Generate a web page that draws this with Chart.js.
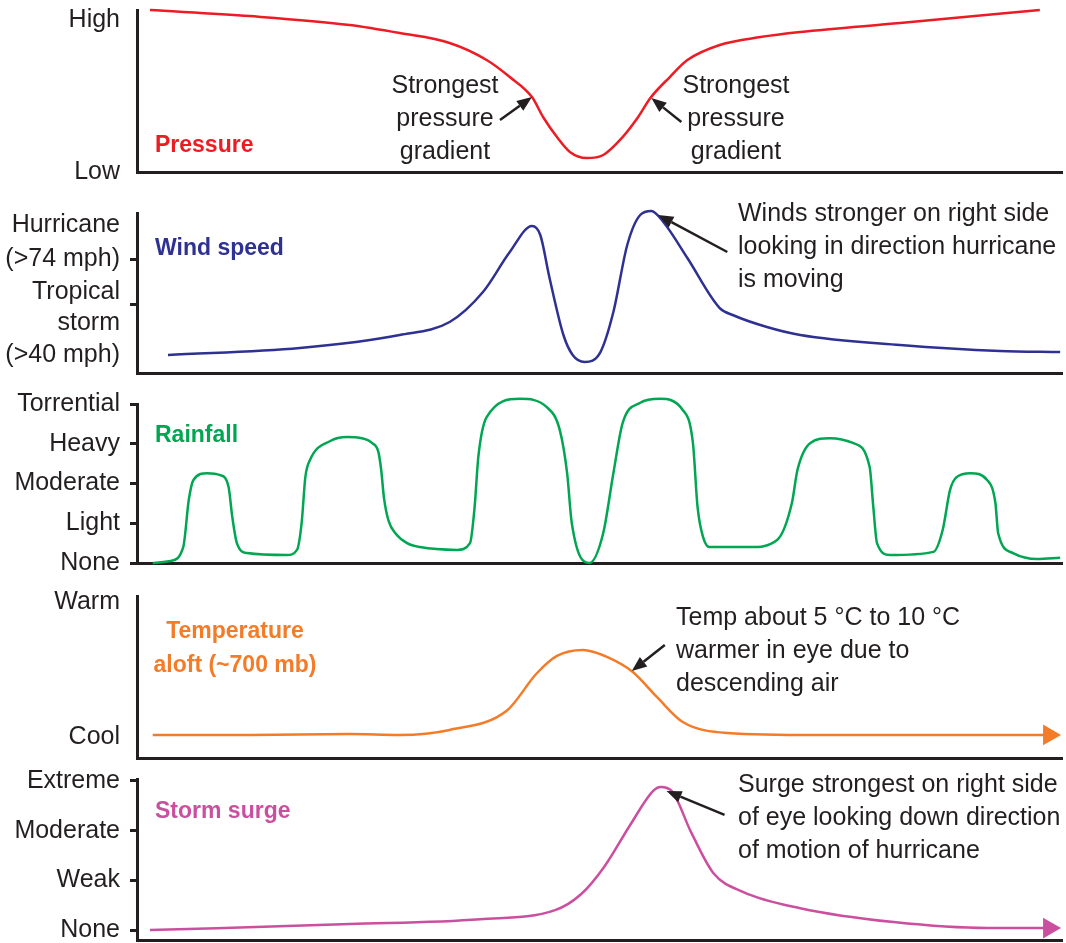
<!DOCTYPE html>
<html lang="en">
<head>
  <meta charset="UTF-8">
  <title>Hurricane cross-section</title>
  <script src="https://cdn.jsdelivr.net/npm/chart.js@4.4.1/dist/chart.umd.min.js"></script>
  <style>
    html, body { margin: 0; padding: 0; background: #fff; }
    #wrap { position: relative; width: 1066px; height: 943px; overflow: hidden; }
    .panel { position: absolute; left: 0; width: 1066px; }
  </style>
</head>
<body>
  <div id="wrap">
    <div class="panel" id="p0"><canvas></canvas></div>
    <div class="panel" id="p1"><canvas></canvas></div>
    <div class="panel" id="p2"><canvas></canvas></div>
    <div class="panel" id="p3"><canvas></canvas></div>
    <div class="panel" id="p4"><canvas></canvas></div>
  </div>

  <script>
    // x = distance across the storm (0..100), y = level on each panel's own scale

    // pressure: 0 = Low, 10 = High
    const pressureX = [1.4, 12.2, 23.0, 28.4, 33.8, 37.8, 40.3, 42.7, 43.9, 45.4, 46.8, 48.6, 50.4, 52.5, 54.1, 55.5, 57.6, 59.5, 63.0, 67.4, 71.7, 82.5, 97.6];
    const pressureY = [10.66, 10.26, 9.67, 9.14, 8.49, 7.37, 6.25, 4.93, 3.62, 2.30, 1.32, 0.92, 1.12, 2.30, 3.55, 4.87, 6.25, 7.37, 8.36, 8.88, 9.21, 9.80, 10.66];

    // wind speed: 0..100 index
    const windX = [3.35, 17.6, 28.4, 33.8, 37.4, 40.3, 42.7, 43.6, 44.6, 46.1, 47.1, 48.4, 50.1, 51.5, 53.0, 54.4, 55.6, 56.9, 59.5, 63.0, 64.4, 68.1, 71.7, 82.5, 93.3, 99.8];
    const windY = [11.25, 15.6, 23.75, 31.9, 50.6, 75.6, 91.9, 86.25, 59.4, 23.75, 11.25, 6.9, 13.1, 38.1, 80, 98.75, 101.25, 94.4, 71.9, 40.6, 36.25, 28.75, 23.75, 17.5, 13.75, 13.1];

    // rainfall: 0 None .. 4 Torrential
    const rainX = [1.7, 3.6, 5.0, 5.6, 6.1, 7.6, 9.0, 9.9, 10.3, 10.8, 11.9, 16.2, 17.3, 17.8, 18.2, 18.7, 20.9, 22.7, 24.3, 25.4, 26.1, 26.4, 26.7, 27.2, 28.0, 29.2, 30.6, 34.6, 36.0, 36.5, 36.9, 37.8, 41.4, 44.3, 45.7, 46.5, 47.0, 48.9, 50.4, 51.5, 52.5, 54.4, 56.5, 59.0, 60.1, 60.6, 61.2, 61.9, 66.3, 69.2, 70.8, 71.4, 72.8, 74.9, 77.4, 79.2, 79.6, 80.0, 81.4, 86.1, 87.1, 87.9, 88.6, 90.1, 91.9, 92.8, 93.1, 94.7, 97.3, 99.8];
    const rainY = [0.00, 0.05, 0.40, 1.59, 2.09, 2.26, 2.21, 1.91, 1.16, 0.50, 0.25, 0.20, 0.33, 1.01, 2.16, 2.59, 3.07, 3.17, 3.14, 3.02, 2.79, 2.34, 1.64, 1.06, 0.73, 0.50, 0.40, 0.33, 0.50, 1.41, 2.67, 3.67, 4.13, 3.92, 3.35, 2.26, 1.01, 0.00, 0.75, 2.26, 3.52, 4.03, 4.13, 3.85, 3.02, 1.41, 0.65, 0.40, 0.40, 0.58, 1.51, 2.34, 3.02, 3.14, 3.02, 2.42, 1.41, 0.50, 0.20, 0.28, 0.83, 1.84, 2.16, 2.26, 2.09, 1.51, 0.75, 0.25, 0.10, 0.13];

    // temperature aloft: 0 = Cool, 10 = Warm
    const tempX = [1.7, 12.2, 23.0, 28.4, 33.8, 40.0, 43.2, 45.4, 48.2, 50.8, 53.6, 56.2, 59.0, 63.8, 73.5, 87.9, 98.6];
    const tempY = [0.15, 0.15, 0.22, 0.15, 0.52, 1.96, 4.70, 6.00, 6.44, 5.93, 4.81, 2.96, 1.11, 0.30, 0.15, 0.15, 0.15];

    // storm surge: 0 None .. 3 Extreme
    const surgeX = [1.4, 23.0, 37.1, 45.2, 48.0, 50.5, 53.3, 55.8, 56.6, 57.8, 59.9, 62.3, 65.5, 71.7, 81.8, 92.0, 98.6];
    const surgeY = [0.00, 0.12, 0.22, 0.40, 0.72, 1.27, 2.11, 2.80, 2.88, 2.80, 1.97, 1.15, 0.77, 0.44, 0.16, 0.04, 0.04];

    // tick labels
    const pressureTicks = ['Low', 'High'];
    const windTicks = ['Hurricane', '(>74 mph)', 'Tropical', '', 'storm', '(>40 mph)'];
    const rainTicks = ['None', 'Light', 'Moderate', 'Heavy', 'Torrential'];
    const tempTicks = ['Cool', 'Warm'];
    const surgeTicks = ['None', 'Weak', 'Moderate', 'Extreme'];

    const ink = '#231f20';
    const FONT = "'Liberation Sans', Arial, sans-serif";
    const padTop = 32, padBottom = 32;

    function drawArrow(ctx, x0, y0, x1, y1) {
      const ang = Math.atan2(y1 - y0, x1 - x0);
      const len = 15, half = 6;
      const bx = x1 - Math.cos(ang) * len, by = y1 - Math.sin(ang) * len;
      ctx.strokeStyle = ink;
      ctx.fillStyle = ink;
      ctx.lineWidth = 2.5;
      ctx.beginPath();
      ctx.moveTo(x0, y0);
      ctx.lineTo(bx, by);
      ctx.stroke();
      ctx.beginPath();
      ctx.moveTo(x1, y1);
      ctx.lineTo(bx + Math.sin(ang) * half, by - Math.cos(ang) * half);
      ctx.lineTo(bx - Math.sin(ang) * half, by + Math.cos(ang) * half);
      ctx.closePath();
      ctx.fill();
    }

    function makePanel(id, p) {
      const holder = document.getElementById(id);
      const offset = p.top - padTop;
      holder.style.top = offset + 'px';
      holder.style.height = (p.bottom - p.top + padTop + padBottom) + 'px';

      const notes = {
        id: 'notes',
        afterDatasetsDraw(chart) {
          const ctx = chart.ctx;
          ctx.save();
          ctx.textBaseline = 'middle';
          p.notes.forEach(n => {
            ctx.font = (n.bold ? 'bold 23px ' : '25px ') + FONT;
            ctx.fillStyle = n.color || ink;
            ctx.textAlign = n.align || 'left';
            n.lines.forEach((s, k) => ctx.fillText(s, n.x, n.y + k * (n.lh || 33) - offset));
          });
          p.arrows.forEach(a => {
            const pt = chart.getDatasetMeta(0).data[a.index];
            const x1 = pt.x + a.dx, y1 = pt.y + a.dy;
            drawArrow(ctx, x1 + a.tx, y1 + a.ty, x1, y1);
          });
          ctx.restore();
        }
      };

      const last = p.x.length - 1;
      return new Chart(holder.querySelector('canvas'), {
        type: 'line',
        data: {
          datasets: [{
            data: p.x.map((x, i) => ({ x: x, y: p.y[i] })),
            borderColor: p.color,
            borderWidth: 2.5,
            cubicInterpolationMode: 'monotone',
            clip: false,
            pointStyle: 'triangle',
            pointRotation: 90,
            pointRadius: c => (p.arrowEnd && c.dataIndex === last) ? 12 : 0,
            pointBackgroundColor: p.color,
            pointBorderWidth: 0
          }]
        },
        options: {
          responsive: true,
          maintainAspectRatio: false,
          animation: false,
          layout: { autoPadding: false, padding: { top: padTop, right: 4, left: 0, bottom: 0 } },
          plugins: { legend: { display: false }, tooltip: { enabled: false } },
          scales: {
            x: {
              type: 'linear', min: 0, max: 100,
              grid: { display: false },
              ticks: { display: false },
              border: { display: true, color: ink, width: 3 },
              afterFit: s => { s.height = padBottom; }
            },
            y: {
              min: p.min, max: p.max,
              afterFit: s => { s.width = 137; },
              afterBuildTicks: s => { s.ticks = p.tickValues.map(v => ({ value: v })); },
              ticks: {
                autoSkip: false,
                color: ink,
                padding: 10,
                font: { family: FONT, size: 25 },
                callback: (v, i) => p.tickLabels[i]
              },
              grid: {
                drawOnChartArea: false,
                tickLength: 7,
                tickWidth: 3,
                tickColor: c => p.tickMarks[c.index] ? ink : 'rgba(0,0,0,0)'
              },
              border: { display: true, color: ink, width: 3 }
            }
          }
        },
        plugins: [notes]
      });
    }

    makePanel('p0', {
      top: 10, bottom: 172, min: 0, max: 10.66,
      x: pressureX, y: pressureY, color: '#ed1c24',
      tickValues: [0, 10], tickLabels: pressureTicks, tickMarks: [false, false],
      notes: [
        { lines: ['Pressure'], x: 155, y: 146, bold: true, color: '#ed1c24' },
        { lines: ['Strongest', 'pressure', 'gradient'], x: 445, y: 86, align: 'center' },
        { lines: ['Strongest', 'pressure', 'gradient'], x: 736, y: 86, align: 'center' }
      ],
      arrows: [
        { index: 7, dx: 0, dy: 0, tx: -32, ty: 23 },
        { index: 15, dx: 1, dy: 0, tx: 30, ty: 24 }
      ]
    });

    makePanel('p1', {
      top: 213, bottom: 373, min: 0, max: 100,
      x: windX, y: windY, color: '#2e3192',
      tickValues: [92.5, 71.25, 50.6, 43.1, 31.25, 11.25], tickLabels: windTicks,
      tickMarks: [false, true, false, true, false, false],
      notes: [
        { lines: ['Wind speed'], x: 155, y: 249, bold: true, color: '#2e3192' },
        { lines: ['Winds stronger on right side', 'looking in direction hurricane', 'is moving'], x: 738, y: 214 }
      ],
      arrows: [{ index: 16, dx: 7, dy: 4, tx: 69, ty: 37 }]
    });

    makePanel('p2', {
      top: 404, bottom: 563, min: 0, max: 4,
      x: rainX, y: rainY, color: '#00a651',
      tickValues: [0, 1, 2, 3, 4], tickLabels: rainTicks,
      tickMarks: [true, true, true, true, true],
      notes: [{ lines: ['Rainfall'], x: 155, y: 436, bold: true, color: '#00a651' }],
      arrows: []
    });

    makePanel('p3', {
      top: 596, bottom: 758, min: -1.56, max: 10.44,
      x: tempX, y: tempY, color: '#f47b27', arrowEnd: true,
      tickValues: [0, 10], tickLabels: tempTicks, tickMarks: [false, false],
      notes: [
        { lines: ['Temperature', 'aloft (~700 mb)'], x: 235, y: 632, lh: 34, bold: true, color: '#f47b27', align: 'center' },
        { lines: ['Temp about 5 °C to 10 °C', 'warmer in eye due to', 'descending air'], x: 676, y: 618 }
      ],
      arrows: [{ index: 10, dx: -1, dy: -1, tx: 33, ty: -26 }]
    });

    makePanel('p4', {
      top: 779, bottom: 940, min: -0.2, max: 3.04,
      x: surgeX, y: surgeY, color: '#cb4f9f', arrowEnd: true,
      tickValues: [0, 1, 2, 3], tickLabels: surgeTicks,
      tickMarks: [true, true, true, true],
      notes: [
        { lines: ['Storm surge'], x: 155, y: 812, bold: true, color: '#cb4f9f' },
        { lines: ['Surge strongest on right side', 'of eye looking down direction', 'of motion of hurricane'], x: 738, y: 785 }
      ],
      arrows: [{ index: 8, dx: 6, dy: 4, tx: 58, ty: 24 }]
    });
  </script>
</body>
</html>
